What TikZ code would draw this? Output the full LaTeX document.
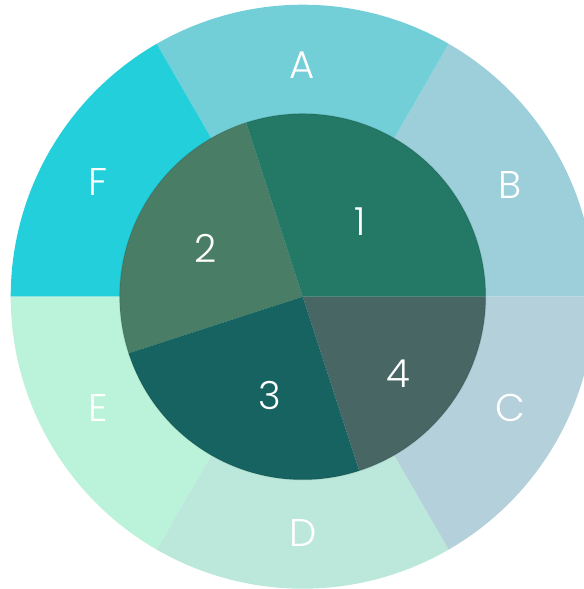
\documentclass[tikz,border=0pt]{standalone}
\usepackage{fontspec}
\setmainfont{Poppins Light}
\definecolor{ringA}{HTML}{72CFD8}
\definecolor{ringB}{HTML}{9CCFDA}
\definecolor{ringC}{HTML}{B4D0DB}
\definecolor{ringD}{HTML}{BBE8DA}
\definecolor{ringE}{HTML}{BAF3DA}
\definecolor{ringF}{HTML}{22CFDB}
\definecolor{pieOne}{HTML}{247866}
\definecolor{pieTwo}{HTML}{4A7D66}
\definecolor{pieThree}{HTML}{166361}
\definecolor{pieFour}{HTML}{476664}
\tikzset{
    seglabel/.style={text=white, inner sep=0pt, font=\fontsize{22}{26}\selectfont}
}

\begin{document}
\begin{tikzpicture}[x=0.02cm, y=0.02cm]
    \useasboundingbox (-302.7,-292.3) rectangle (281.3,296.7);
    \coordinate (ctr) at (0,0);

    % outer ring
    \foreach \a/\col in {0/ringB, 60/ringA, 120/ringF, 180/ringE, 240/ringD, 300/ringC}
        \fill[\col] (ctr) -- (\a:292) arc[start angle=\a, delta angle=60, radius=292] -- cycle;

    % inner pie
    \foreach \a/\b/\col in {0/108/pieOne, 108/198/pieTwo, 198/288/pieThree, 288/360/pieFour}
        \fill[\col] (ctr) -- (\a:183) arc[start angle=\a, end angle=\b, radius=183] -- cycle;
    \draw[black, opacity=0.08, line width=0.8pt] (ctr) circle[radius=183];

    \node[seglabel] (labA) at (-0.7,231.7) {A};
    \node[seglabel] (labB) at (207.3,111.7) {B};
    \node[seglabel] (labC) at (207.3,-111.3) {C};
    \node[seglabel] (labD) at (0.3,-236.3) {D};
    \node[seglabel] (labE) at (-204.7,-111.3) {E};
    \node[seglabel] (labF) at (-204.7,114.7) {F};

    \node[seglabel] (lab1) at (57.3,74.7) {1};
    \node[seglabel] (lab2) at (-96.7,48.7) {2};
    \node[seglabel] (lab3) at (-32.7,-98.3) {3};
    \node[seglabel] (lab4) at (95.3,-77.3) {4};
\end{tikzpicture}
\end{document}
